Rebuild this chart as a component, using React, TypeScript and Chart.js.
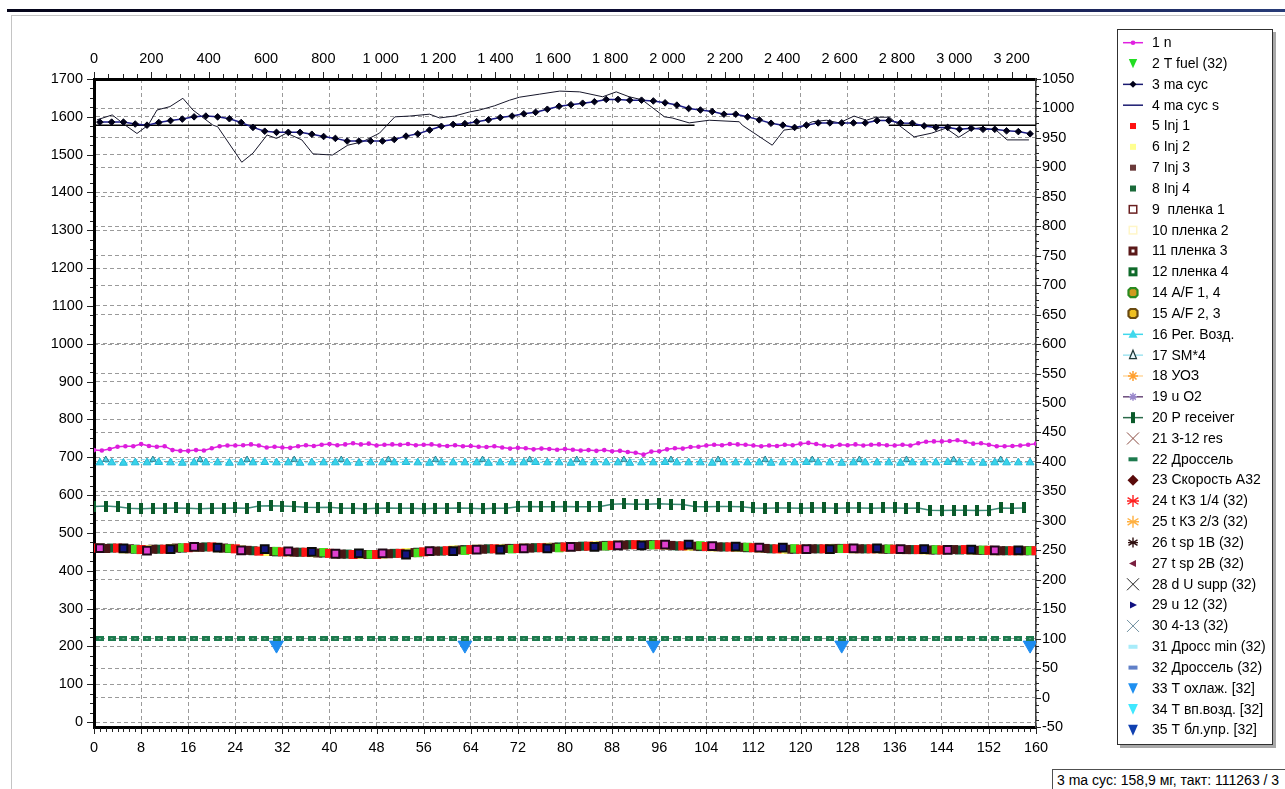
import React, { useEffect, useRef } from "react";
import { Chart, registerables } from "chart.js";

Chart.register(...registerables);

const TICK_FONT_FAMILY = "'Liberation Sans', Arial, sans-serif";
const TEXT_FONT_FAMILY = "'Liberation Sans', Arial, sans-serif";

// ---- axes ----
const X_MIN = 0, X_MAX = 160, X_STEP = 8;          // bottom: cycles
const X2_MIN = 0, X2_MAX = 3285, X2_STEP = 200;    // top: time
const Y_MIN = -13, Y_MAX = 1700, Y_STEP = 100;     // left
const Y2_MIN = -50, Y2_MAX = 1050, Y2_STEP = 50;   // right

// ---- 1 n (every 4/3 cycle) ----
const N_VALUES = [
  719, 718, 722, 728, 729, 729, 735, 730, 728, 729,
  719, 717, 717, 719, 718, 724, 729, 731, 731, 732,
  734, 731, 726, 728, 726, 725, 729, 732, 730, 733,
  735, 732, 734, 737, 734, 736, 731, 733, 734, 733,
  735, 732, 733, 734, 731, 730, 732, 729, 730, 728,
  727, 729, 726, 723, 725, 724, 721, 723, 722, 720,
  722, 720, 718, 719, 717, 719, 716, 717, 714, 712,
  707, 715, 716, 721, 724, 723, 727, 728, 731, 733,
  732, 735, 734, 733, 731, 729, 731, 730, 733, 732,
  736, 738, 735, 731, 729, 733, 732, 734, 731, 733,
  734, 732, 731, 733, 731, 737, 741, 742, 742, 743,
  745, 741, 736, 737, 733, 729, 729, 730, 731, 733,
  736,
];

// ---- 3 ma cyc (odd cycles 1..159) ----
const MA_CYC = [
  1586, 1586, 1586, 1581, 1578, 1585, 1590, 1594, 1600, 1602,
  1600, 1595, 1585, 1572, 1562, 1559, 1559, 1559, 1554, 1548,
  1543, 1536, 1536, 1536, 1536, 1540, 1549, 1555, 1565, 1575,
  1580, 1582, 1587, 1592, 1598, 1602, 1608, 1612, 1620, 1628,
  1632, 1636, 1640, 1646, 1646, 1644, 1644, 1642, 1637, 1631,
  1622, 1618, 1614, 1607, 1607, 1600, 1592, 1583, 1578, 1572,
  1578, 1584, 1584, 1584, 1584, 1584, 1590, 1590, 1584, 1583,
  1576, 1572, 1572, 1567, 1570, 1567, 1567, 1563, 1561, 1555,
];

// ---- 4 ma cyc s ----
const MA_CYC_S_X = [
  0.5, 3.1, 5.3, 7.3, 9.2, 10.7, 12.9, 15.1, 16.8, 20.2,
  21.0, 25.1, 27.0, 29.4, 31.0, 32.7, 35.3, 37.2, 40.5, 43.1,
  45.6, 48.5, 51.1, 53.6, 57.0, 58.7, 61.2, 63.8, 65.5, 68.0,
  70.6, 72.3, 75.7, 79.1, 82.5, 86.4, 88.7, 90.9, 93.1, 96.9,
  98.2, 101.1, 104.5, 109.6, 110.1, 115.2, 117.2, 119.8, 122.0, 124.4,
  126.6, 129.1, 131.2, 132.8, 135.1, 136.7, 139.3, 142.3, 144.7, 146.9,
  149.0, 150.8, 153.2, 155.1, 158.8,
];
const MA_CYC_S_Y = [
  1592, 1605, 1578, 1556, 1578, 1618, 1627, 1649, 1618, 1578,
  1574, 1480, 1504, 1552, 1543, 1557, 1539, 1502, 1499, 1525,
  1534, 1557, 1600, 1602, 1607, 1597, 1602, 1613, 1618, 1629,
  1644, 1652, 1660, 1668, 1666, 1653, 1666, 1653, 1645, 1600,
  1597, 1584, 1591, 1587, 1578, 1525, 1565, 1570, 1587, 1591,
  1584, 1602, 1591, 1599, 1599, 1578, 1547, 1557, 1570, 1546,
  1567, 1572, 1565, 1539, 1539,
];

// ---- reference level of ma cyc ----
const REF_X = [0, 20, 20.5, 21, 59, 60, 61, 102, 118, 135, 160];
const REF_Y = [1578, 1578, null, 1578, 1578, null, 1578, 1578, null, 1578, 1578];

// ---- injector band (cycles 4k, 4k+1, 4k+2, 4k+3) ----
const INJ1 = [
  460, 460, 456, 457, 461, 463, 458, 452, 450, 449,
  446, 443, 443, 446, 450, 453, 456, 458, 459, 461,
  463, 465, 467, 469, 469, 466, 464, 463, 461, 458,
  457, 458, 459, 458, 457, 456, 455, 456, 454, 453,
  453,
];
const INJ2 = [
  460, 458, 456, 459, 462, 461, 455, 451, 450, 448,
  445, 443, 444, 448, 451, 455, 457, 458, 460, 462,
  464, 466, 468, 469, 468, 465, 463, 462, 460, 457,
  457, 459, 458, 458, 456, 455, 456, 455, 453, 453,
];
const INJ3 = [
  459, 458, 457, 460, 462, 460, 454, 451, 449, 447,
  444, 443, 445, 448, 452, 455, 457, 459, 460, 462,
  464, 466, 468, 469, 467, 465, 463, 462, 459, 457,
  458, 459, 458, 457, 456, 455, 456, 454, 453, 453,
];
const INJ4 = [
  460, 457, 457, 460, 463, 459, 453, 450, 449, 447,
  444, 443, 446, 449, 452, 456, 458, 459, 461, 463,
  465, 467, 469, 469, 466, 464, 463, 461, 458, 457,
  458, 459, 458, 457, 456, 455, 455, 454, 453, 453,
];
// пленка 1 (cycles 8k+1), пленка 3 (8k+5), A/F 1,4 (8k+7)
const FILM1 = [460, 453, 463, 454, 451, 445, 446, 452, 456, 459, 463, 467, 469, 465, 461, 457, 459, 457, 455, 454];
const FILM3 = [459, 457, 461, 457, 450, 446, 443, 452, 456, 459, 463, 467, 469, 464, 461, 457, 459, 457, 456, 454];
const AF14 = [457, 461, 459, 452, 449, 443, 447, 453, 457, 460, 465, 468, 467, 463, 459, 458, 458, 456, 455, 453];

// ---- 16 Рег. Возд. (odd cycles) ----
const REG_AIR = [
  686, 686, 685, 686, 686, 687, 686, 685, 686, 686,
  686, 685, 686, 686, 687, 686, 686, 685, 686, 686,
  686, 686, 685, 686, 686, 686, 687, 686, 685, 686,
  686, 686, 686, 685, 686, 686, 686, 687, 686, 686,
  685, 686, 686, 686, 686, 685, 686, 686, 687, 686,
  686, 686, 685, 686, 686, 686, 686, 685, 686, 686,
  687, 686, 686, 685, 686, 686, 686, 686, 685, 686,
  686, 686, 687, 686, 686, 685, 686, 686, 686, 686,
];
// ---- 17 SM*4 (cycles 8k+2) ----
const SM4 = [694, 694, 694, 694, 694, 694, 694, 694, 694, 694, 694, 694, 694, 694, 694, 694, 694, 694, 694, 694];

// ---- 20 P receiver (even cycles) ----
const P_RECEIVER = [
  570, 571, 569,
  565, 564, 565, 565, 566, 565, 564, 565, 565, 566, 565,
  571, 572, 571, 570,
  568, 567, 568,
  565, 565, 564, 565, 566, 565, 565, 564, 565, 565, 566, 565, 564, 565, 565,
  569, 570, 569, 569, 570, 569, 569, 570,
  576, 577, 576, 576, 577, 576, 575,
  570, 569, 570, 570, 569,
  566, 565, 566, 566, 565, 566, 566, 565, 566, 566, 565, 566, 566, 565, 566,
  560, 559, 560, 560, 559, 560,
  566, 565, 566,
];

// ---- 22 Дроссель (right axis, odd cycles) ----
const THROTTLE = [
  100, 100, 100, 100, 100, 100, 100, 100, 100, 100,
  100, 100, 100, 100, 100, 100, 100, 100, 100, 100,
  100, 100, 100, 100, 100, 100, 100, 100, 100, 100,
  100, 100, 100, 100, 100, 100, 100, 100, 100, 100,
  100, 100, 100, 100, 100, 100, 100, 100, 100, 100,
  100, 100, 100, 100, 100, 100, 100, 100, 100, 100,
  100, 100, 100, 100, 100, 100, 100, 100, 100, 100,
  100, 100, 100, 100, 100, 100, 100, 100, 100, 100,
];

// ---- 33 T охлаж. [32] (right axis) ----
const T_COOL_X = [31, 63, 95, 127, 159];
const T_COOL = [89, 89, 89, 89, 89];

const STATUS_TEXT = "3 ma cyc: 158,9 мг, такт: 111263 / 3";

const seq = (n: number, start: number, step: number) => Array.from({ length: n }, (_, i) => start + i * step);
const pts = (xs: number[], ys: (number | null)[]) => ys.map((y, i) => ({ x: xs[i], y }));
const tickRange = (from: number, to: number, step: number) =>
  Array.from({ length: Math.floor((to - from) / step) + 1 }, (_, i) => ({ value: from + i * step }));

function drawIcon(ctx: CanvasRenderingContext2D, ic: any, cx: number, cy: number) {
  ctx.save();
  if (ic.line) {
    ctx.strokeStyle = ic.line;
    ctx.lineWidth = 1.5;
    ctx.beginPath();
    ctx.moveTo(cx - 10, cy);
    ctx.lineTo(cx + 10, cy);
    ctx.stroke();
  }
  const s = ic.size ?? 5;
  const col = ic.color;
  ctx.fillStyle = col;
  ctx.strokeStyle = col;
  ctx.lineWidth = 1;
  ctx.beginPath();
  switch (ic.marker) {
    case "circle":
      ctx.arc(cx, cy, s, 0, Math.PI * 2);
      ctx.fill();
      break;
    case "square":
      ctx.fillRect(cx - s / 2, cy - s / 2, s, s);
      break;
    case "hollow": {
      const lw = ic.lw ?? 1.5;
      ctx.fillStyle = "#fff";
      ctx.fillRect(cx - s / 2, cy - s / 2, s, s);
      ctx.lineWidth = lw;
      ctx.strokeRect(cx - s / 2 + lw / 2, cy - s / 2 + lw / 2, s - lw, s - lw);
      break;
    }
    case "octagon": {
      const r = s / 2, k = r * 0.45;
      ctx.moveTo(cx - r + k, cy - r);
      ctx.lineTo(cx + r - k, cy - r);
      ctx.lineTo(cx + r, cy - r + k);
      ctx.lineTo(cx + r, cy + r - k);
      ctx.lineTo(cx + r - k, cy + r);
      ctx.lineTo(cx - r + k, cy + r);
      ctx.lineTo(cx - r, cy + r - k);
      ctx.lineTo(cx - r, cy - r + k);
      ctx.closePath();
      ctx.fillStyle = ic.fill;
      ctx.fill();
      ctx.lineWidth = 2.2;
      ctx.stroke();
      break;
    }
    case "diamond":
      ctx.moveTo(cx, cy - s);
      ctx.lineTo(cx + s, cy);
      ctx.lineTo(cx, cy + s);
      ctx.lineTo(cx - s, cy);
      ctx.closePath();
      ctx.fill();
      break;
    case "triUp":
      ctx.moveTo(cx, cy - s);
      ctx.lineTo(cx + s * 0.9, cy + s * 0.7);
      ctx.lineTo(cx - s * 0.9, cy + s * 0.7);
      ctx.closePath();
      ctx.fill();
      break;
    case "triUpOutline":
      ctx.moveTo(cx, cy - s);
      ctx.lineTo(cx + s * 0.7, cy + s * 0.7);
      ctx.lineTo(cx - s * 0.7, cy + s * 0.7);
      ctx.closePath();
      ctx.fillStyle = "#e8f8fc";
      ctx.fill();
      ctx.lineWidth = 1.2;
      ctx.stroke();
      break;
    case "triDown":
      ctx.moveTo(cx - s * 0.7, cy - s * 0.75);
      ctx.lineTo(cx + s * 0.7, cy - s * 0.75);
      ctx.lineTo(cx, cy + s * 0.8);
      ctx.closePath();
      ctx.fill();
      break;
    case "triLeft":
      ctx.moveTo(cx - s * 0.8, cy);
      ctx.lineTo(cx + s * 0.6, cy - s * 0.7);
      ctx.lineTo(cx + s * 0.6, cy + s * 0.7);
      ctx.closePath();
      ctx.fill();
      break;
    case "triRight":
      ctx.moveTo(cx + s * 0.8, cy);
      ctx.lineTo(cx - s * 0.6, cy - s * 0.7);
      ctx.lineTo(cx - s * 0.6, cy + s * 0.7);
      ctx.closePath();
      ctx.fill();
      break;
    case "x":
      ctx.lineWidth = 1;
      ctx.moveTo(cx - s, cy - s);
      ctx.lineTo(cx + s, cy + s);
      ctx.moveTo(cx + s, cy - s);
      ctx.lineTo(cx - s, cy + s);
      ctx.stroke();
      break;
    case "star":
      ctx.lineWidth = 1.5;
      ctx.moveTo(cx - s, cy);
      ctx.lineTo(cx + s, cy);
      ctx.moveTo(cx, cy - s);
      ctx.lineTo(cx, cy + s);
      ctx.moveTo(cx - s * 0.7, cy - s * 0.7);
      ctx.lineTo(cx + s * 0.7, cy + s * 0.7);
      ctx.moveTo(cx + s * 0.7, cy - s * 0.7);
      ctx.lineTo(cx - s * 0.7, cy + s * 0.7);
      ctx.stroke();
      break;
    case "asterisk":
      ctx.lineWidth = 1.4;
      ctx.moveTo(cx, cy - s);
      ctx.lineTo(cx, cy + s);
      ctx.moveTo(cx - s * 0.9, cy - s * 0.55);
      ctx.lineTo(cx + s * 0.9, cy + s * 0.55);
      ctx.moveTo(cx + s * 0.9, cy - s * 0.55);
      ctx.lineTo(cx - s * 0.9, cy + s * 0.55);
      ctx.moveTo(cx - s, cy);
      ctx.lineTo(cx + s, cy);
      ctx.stroke();
      break;
    case "bar":
      ctx.fillRect(cx - 2, cy - 5.5, 4, 11);
      break;
    case "dash":
      ctx.fillRect(cx - 4.5, cy - 2, 9, 4);
      break;
  }
  ctx.restore();
}

const legendPlugin = {
  id: "boxLegend",
  afterDraw(chart: any) {
    const ctx: CanvasRenderingContext2D = chart.ctx;
    const items = chart.data.datasets.filter((d: any) => d.legendIcon);
    const L = 1117, T = 29, W = 156, H = 716;
    ctx.save();
    ctx.fillStyle = "#a8a8a8";
    ctx.fillRect(L + 3, T + 3, W, H);
    ctx.fillStyle = "#ffffff";
    ctx.fillRect(L, T, W, H);
    ctx.strokeStyle = "#303030";
    ctx.lineWidth = 1;
    ctx.strokeRect(L + 0.5, T + 0.5, W - 1, H - 1);
    ctx.font = `14px ${TEXT_FONT_FAMILY}`;
    ctx.textBaseline = "middle";
    ctx.textAlign = "left";
    items.forEach((d: any, i: number) => {
      const cy = 42.7 + i * 20.83;
      drawIcon(ctx, d.legendIcon, 1133, cy);
      ctx.fillStyle = "#000";
      ctx.fillText(d.label, 1152, cy + 0.5);
    });
    ctx.restore();
  },
};

const minorTicksPlugin = {
  id: "minorTicks",
  afterDraw(chart: any) {
    const { ctx, chartArea: a, scales } = chart;
    ctx.save();
    ctx.strokeStyle = "#222";
    ctx.lineWidth = 1;
    ctx.beginPath();
    for (let v = X_MIN; v <= X_MAX; v += 1) {
      const x = Math.round(scales.x.getPixelForValue(v)) + 0.5;
      const len = v % X_STEP === 0 ? 6 : 4;
      ctx.moveTo(x, a.bottom + 1);
      ctx.lineTo(x, a.bottom + 1 + len);
    }
    for (let v = X2_MIN; v <= X2_MAX; v += 50) {
      const x = Math.round(scales.x2.getPixelForValue(v)) + 0.5;
      const len = v % X2_STEP === 0 ? 6 : 4;
      ctx.moveTo(x, a.top - 1);
      ctx.lineTo(x, a.top - 1 - len);
    }
    for (let v = 0; v <= Y_MAX; v += 25) {
      const y = Math.round(scales.y.getPixelForValue(v)) + 0.5;
      const len = v % Y_STEP === 0 ? 6 : 3;
      ctx.moveTo(a.left - 1, y);
      ctx.lineTo(a.left - 1 - len, y);
    }
    for (let v = Y2_MIN; v <= Y2_MAX; v += 12.5) {
      const y = Math.round(scales.y2.getPixelForValue(v)) + 0.5;
      const len = v % Y2_STEP === 0 ? 5 : 3;
      ctx.moveTo(a.right, y);
      ctx.lineTo(a.right + len, y);
    }
    ctx.stroke();
    ctx.restore();
  },
};

function makeCanvas(w: number, h: number, draw: (c: CanvasRenderingContext2D) => void) {
  const c = document.createElement("canvas");
  c.width = w;
  c.height = h;
  draw(c.getContext("2d") as CanvasRenderingContext2D);
  return c;
}

const fmtThousands = (v: number) =>
  v >= 1000 ? `${Math.floor(v / 1000)} ${String(v % 1000).padStart(3, "0")}` : String(v);

export default function App() {
  const ref = useRef<HTMLCanvasElement>(null);

  useEffect(() => {
    const canvas = ref.current;
    if (!canvas) return;

    const barStyle = makeCanvas(4, 11, (c) => {
      c.fillStyle = "#0a5a2a";
      c.fillRect(0, 0, 4, 11);
    });
    const dashStyle = makeCanvas(8, 5, (c) => {
      c.fillStyle = "#1d7a4e";
      c.fillRect(0, 0, 8, 5);
      c.fillStyle = "#79b896";
      c.fillRect(3, 2, 2, 1);
    });

    const tickFont = { family: TICK_FONT_FAMILY, size: 14.5 };
    const gridOpts = { color: "#9a9a9a", lineWidth: 1, drawTicks: false };

    const none = (label: string, legendIcon: any) => ({ label, legendIcon, data: [] as any[] });

    const datasets: any[] = [
      {
        label: "1 n",
        legendIcon: { line: "#e020e0", marker: "circle", color: "#e020e0", size: 2.3 },
        data: pts(seq(N_VALUES.length, 0, 4 / 3), N_VALUES),
        borderColor: "#e020e0",
        borderWidth: 1.5,
        pointRadius: 2.3,
        pointBackgroundColor: "#dd1cdd",
        pointBorderWidth: 0,
      },
      none("2 T fuel (32)", { marker: "triDown", color: "#22dd22", size: 6 }),
      {
        label: "3 ma cyc",
        legendIcon: { line: "#1a1a70", marker: "diamond", color: "#000018", size: 3.5 },
        data: pts(seq(MA_CYC.length, 1, 2), MA_CYC),
        borderColor: "#1c1c88",
        borderWidth: 1.5,
        pointStyle: "rectRot",
        pointRadius: 3.3,
        pointBackgroundColor: "#000018",
        pointBorderColor: "#000018",
        pointBorderWidth: 1,
      },
      {
        label: "4 ma cyc s",
        legendIcon: { line: "#1a1a70" },
        data: pts(MA_CYC_S_X, MA_CYC_S_Y),
        borderColor: "#16162a",
        borderWidth: 1,
        pointRadius: 0,
      },
      {
        label: "5 Inj 1",
        legendIcon: { marker: "square", color: "#ff1010", size: 6 },
        data: pts(seq(INJ1.length, 0, 4), INJ1),
        showLine: false,
        pointStyle: "rect",
        pointRadius: 6.4,
        pointBackgroundColor: "#ff1414",
        pointBorderWidth: 0,
        order: 2,
      },
      {
        label: "6 Inj 2",
        legendIcon: { marker: "square", color: "#ffff90", size: 6 },
        data: pts(seq(INJ2.length, 1, 4), INJ2),
        showLine: false,
        pointStyle: "rect",
        pointRadius: 6.4,
        pointBackgroundColor: "#ffff66",
        pointBorderWidth: 0,
        order: 3,
      },
      {
        label: "7 Inj 3",
        legendIcon: { marker: "square", color: "#6a3a3a", size: 6 },
        data: pts(seq(INJ3.length, 2, 4), INJ3),
        showLine: false,
        pointStyle: "rect",
        pointRadius: 6.4,
        pointBackgroundColor: "#4a1616",
        pointBorderWidth: 0,
        order: 4,
      },
      {
        label: "8 Inj 4",
        legendIcon: { marker: "square", color: "#1a6a3a", size: 6 },
        data: pts(seq(INJ4.length, 3, 4), INJ4),
        showLine: false,
        pointStyle: "rect",
        pointRadius: 6.4,
        pointBackgroundColor: "#0b6030",
        pointBorderWidth: 0,
        order: 5,
      },
      {
        label: "9  пленка 1",
        legendIcon: { marker: "hollow", color: "#6a2020", size: 9, lw: 1.5 },
        data: pts(seq(FILM1.length, 1, 8), FILM1),
        showLine: false,
        pointStyle: "rect",
        pointRadius: 5.5,
        pointBackgroundColor: "#e040d0",
        pointBorderColor: "#200818",
        pointBorderWidth: 2,
        order: 1,
      },
      none("10 пленка 2", { marker: "hollow", color: "#fff6c8", size: 9, lw: 1.5 }),
      {
        label: "11 пленка 3",
        legendIcon: { marker: "hollow", color: "#5a1818", size: 9, lw: 3 },
        data: pts(seq(FILM3.length, 5, 8), FILM3),
        showLine: false,
        pointStyle: "rect",
        pointRadius: 5.5,
        pointBackgroundColor: "#141480",
        pointBorderColor: "#0a0a0a",
        pointBorderWidth: 2,
        order: 1,
      },
      none("12 пленка 4", { marker: "hollow", color: "#0f6a2a", size: 9, lw: 3 }),
      {
        label: "14 A/F 1, 4",
        legendIcon: { marker: "octagon", color: "#2a8a20", fill: "#d09a20", size: 9 },
        data: pts(seq(AF14.length, 7, 8), AF14),
        showLine: false,
        pointStyle: "rect",
        pointRadius: 6,
        pointBackgroundColor: "#44e020",
        pointBorderWidth: 0,
        order: 2,
      },
      none("15 A/F 2, 3", { marker: "octagon", color: "#6a4a10", fill: "#f0c020", size: 9 }),
      {
        label: "16 Рег. Возд.",
        legendIcon: { line: "#40d8ec", marker: "triUp", color: "#40d8ec", size: 5 },
        data: pts(seq(REG_AIR.length, 1, 2), REG_AIR),
        borderColor: "#60dcf0",
        borderWidth: 1,
        borderDash: [3, 2],
        pointStyle: "triangle",
        pointRadius: 4.5,
        pointBackgroundColor: "#38d4ea",
        pointBorderColor: "#22b8d8",
        pointBorderWidth: 1,
      },
      {
        label: "17 SM*4",
        legendIcon: { line: "#a0e4f0", marker: "triUpOutline", color: "#203838", size: 5 },
        data: pts(seq(SM4.length, 2, 8), SM4),
        borderColor: "#8adcec",
        borderWidth: 1,
        borderDash: [4, 3],
        pointStyle: "triangle",
        pointRadius: 3.5,
        pointBackgroundColor: "#52d8ee",
        pointBorderColor: "#2a8090",
        pointBorderWidth: 1,
      },
      none("18 УОЗ", { line: "#ffd8a0", marker: "star", color: "#ffa030", size: 5 }),
      none("19 u O2", { line: "#6a4a7a", marker: "star", color: "#9a88cc", size: 4 }),
      {
        label: "20 P receiver",
        legendIcon: { line: "#2a6a4a", marker: "bar", color: "#0a5a2a" },
        data: pts(seq(P_RECEIVER.length, 0, 2), P_RECEIVER),
        borderColor: "#3e8a78",
        borderWidth: 1.5,
        pointStyle: barStyle,
      },
      none("21 3-12 res", { marker: "x", color: "#8a4a40", size: 6 }),
      {
        label: "22 Дроссель",
        legendIcon: { marker: "dash", color: "#1d7a4e" },
        data: pts(seq(THROTTLE.length, 1, 2), THROTTLE),
        yAxisID: "y2",
        showLine: false,
        pointStyle: dashStyle,
      },
      none("23 Скорость A32", { marker: "diamond", color: "#5a0a0a", size: 5.5 }),
      none("24 t КЗ 1/4 (32)", { marker: "asterisk", color: "#ff2020", size: 6 }),
      none("25 t КЗ 2/3 (32)", { marker: "asterisk", color: "#ffb040", size: 6 }),
      none("26 t sp 1B (32)", { marker: "asterisk", color: "#301010", size: 5 }),
      none("27 t sp 2B (32)", { marker: "triLeft", color: "#7a2040", size: 5 }),
      none("28 d U supp (32)", { marker: "x", color: "#202020", size: 6 }),
      none("29 u 12 (32)", { marker: "triRight", color: "#101080", size: 5 }),
      none("30 4-13 (32)", { marker: "x", color: "#7090a0", size: 6 }),
      none("31 Дросс min (32)", { marker: "dash", color: "#a8ecfa" }),
      none("32 Дроссель (32)", { marker: "dash", color: "#6080c8" }),
      {
        label: "33 T охлаж. [32]",
        legendIcon: { marker: "triDown", color: "#2090f0", size: 7 },
        data: pts(T_COOL_X, T_COOL),
        yAxisID: "y2",
        showLine: false,
        pointStyle: "triangle",
        pointRotation: 180,
        pointRadius: 8,
        pointBackgroundColor: "#1e8cf0",
        pointBorderColor: "#1e8cf0",
        pointBorderWidth: 1,
      },
      none("34 T вп.возд. [32]", { marker: "triDown", color: "#40e8ff", size: 7 }),
      none("35 T бл.упр. [32]", { marker: "triDown", color: "#1040b0", size: 7 }),
      {
        label: "ma cyc ref",
        data: pts(REF_X, REF_Y),
        borderColor: "#000000",
        borderWidth: 1.5,
        pointRadius: 0,
        spanGaps: false,
      },
    ];

    const plain = (v: any) => String(v);

    const chart = new Chart(canvas, {
      type: "line",
      data: { datasets },
      options: {
        animation: false,
        responsive: false,
        events: [],
        layout: { padding: { left: 0, top: 0, right: 189, bottom: 22 } },
        elements: { line: { tension: 0 } },
        plugins: { legend: { display: false }, tooltip: { enabled: false } },
        scales: {
          x: {
            type: "linear",
            position: "bottom",
            min: X_MIN,
            max: X_MAX,
            ticks: { autoSkip: false, maxRotation: 0, padding: 12, color: "#000", font: tickFont, callback: plain },
            afterBuildTicks: (s: any) => { s.ticks = tickRange(X_MIN, X_MAX, X_STEP); },
            grid: gridOpts,
            border: { display: true, color: "#000", width: 3, dash: [4, 3] },
            afterFit: (s: any) => { s.height = 40; },
          },
          x2: {
            type: "linear",
            position: "top",
            min: X2_MIN,
            max: X2_MAX,
            ticks: {
              autoSkip: false,
              maxRotation: 0,
              padding: 11,
              color: "#000",
              font: tickFont,
              callback: (v: any) => fmtThousands(Number(v)),
            },
            afterBuildTicks: (s: any) => { s.ticks = tickRange(X2_MIN, 3200, X2_STEP); },
            grid: { drawOnChartArea: false, drawTicks: false },
            border: { display: true, color: "#000", width: 3 },
            afterFit: (s: any) => { s.height = 79; },
          },
          y: {
            type: "linear",
            position: "left",
            min: Y_MIN,
            max: Y_MAX,
            ticks: { autoSkip: false, padding: 11, color: "#000", font: tickFont, callback: plain },
            afterBuildTicks: (s: any) => { s.ticks = tickRange(0, Y_MAX, Y_STEP); },
            grid: gridOpts,
            border: { display: true, color: "#000", width: 3, dash: [4, 3] },
            afterFit: (s: any) => { s.width = 94; },
          },
          y2: {
            type: "linear",
            position: "right",
            min: Y2_MIN,
            max: Y2_MAX,
            ticks: { autoSkip: false, padding: 6, color: "#000", font: tickFont, callback: plain },
            afterBuildTicks: (s: any) => { s.ticks = tickRange(Y2_MIN, Y2_MAX, Y2_STEP); },
            grid: gridOpts,
            border: { display: true, color: "#404040", width: 1.5, dash: [4, 3] },
            afterFit: (s: any) => { s.width = 60; },
          },
        },
      },
      plugins: [minorTicksPlugin, legendPlugin],
    } as any);

    return () => chart.destroy();
  }, []);

  return (
    <div style={{ position: "absolute", left: 0, top: 0, width: 1285, height: 789, overflow: "hidden", background: "#fff" }}>
      <div style={{ position: "absolute", left: 7, top: 9, width: 1278, height: 3, background: "linear-gradient(90deg, #05051a, #101040 70%, #283c78)" }} />
      <div style={{ position: "absolute", left: 11, top: 15, width: 1300, height: 800, borderLeft: "1px solid #c4c4c4", borderTop: "1px solid #c4c4c4" }} />
      <canvas ref={ref} width={1285} height={789} style={{ position: "absolute", left: 0, top: 0, width: 1285, height: 789 }} />
      <div
        style={{
          position: "absolute",
          left: 1052,
          top: 769,
          width: 280,
          height: 24,
          boxSizing: "border-box",
          border: "1px solid #505050",
          paddingLeft: 4,
          font: `14px ${TEXT_FONT_FAMILY}`,
          lineHeight: "20px",
          whiteSpace: "nowrap",
          color: "#000",
          background: "#fff",
        }}
      >
        {STATUS_TEXT}
      </div>
    </div>
  );
}
